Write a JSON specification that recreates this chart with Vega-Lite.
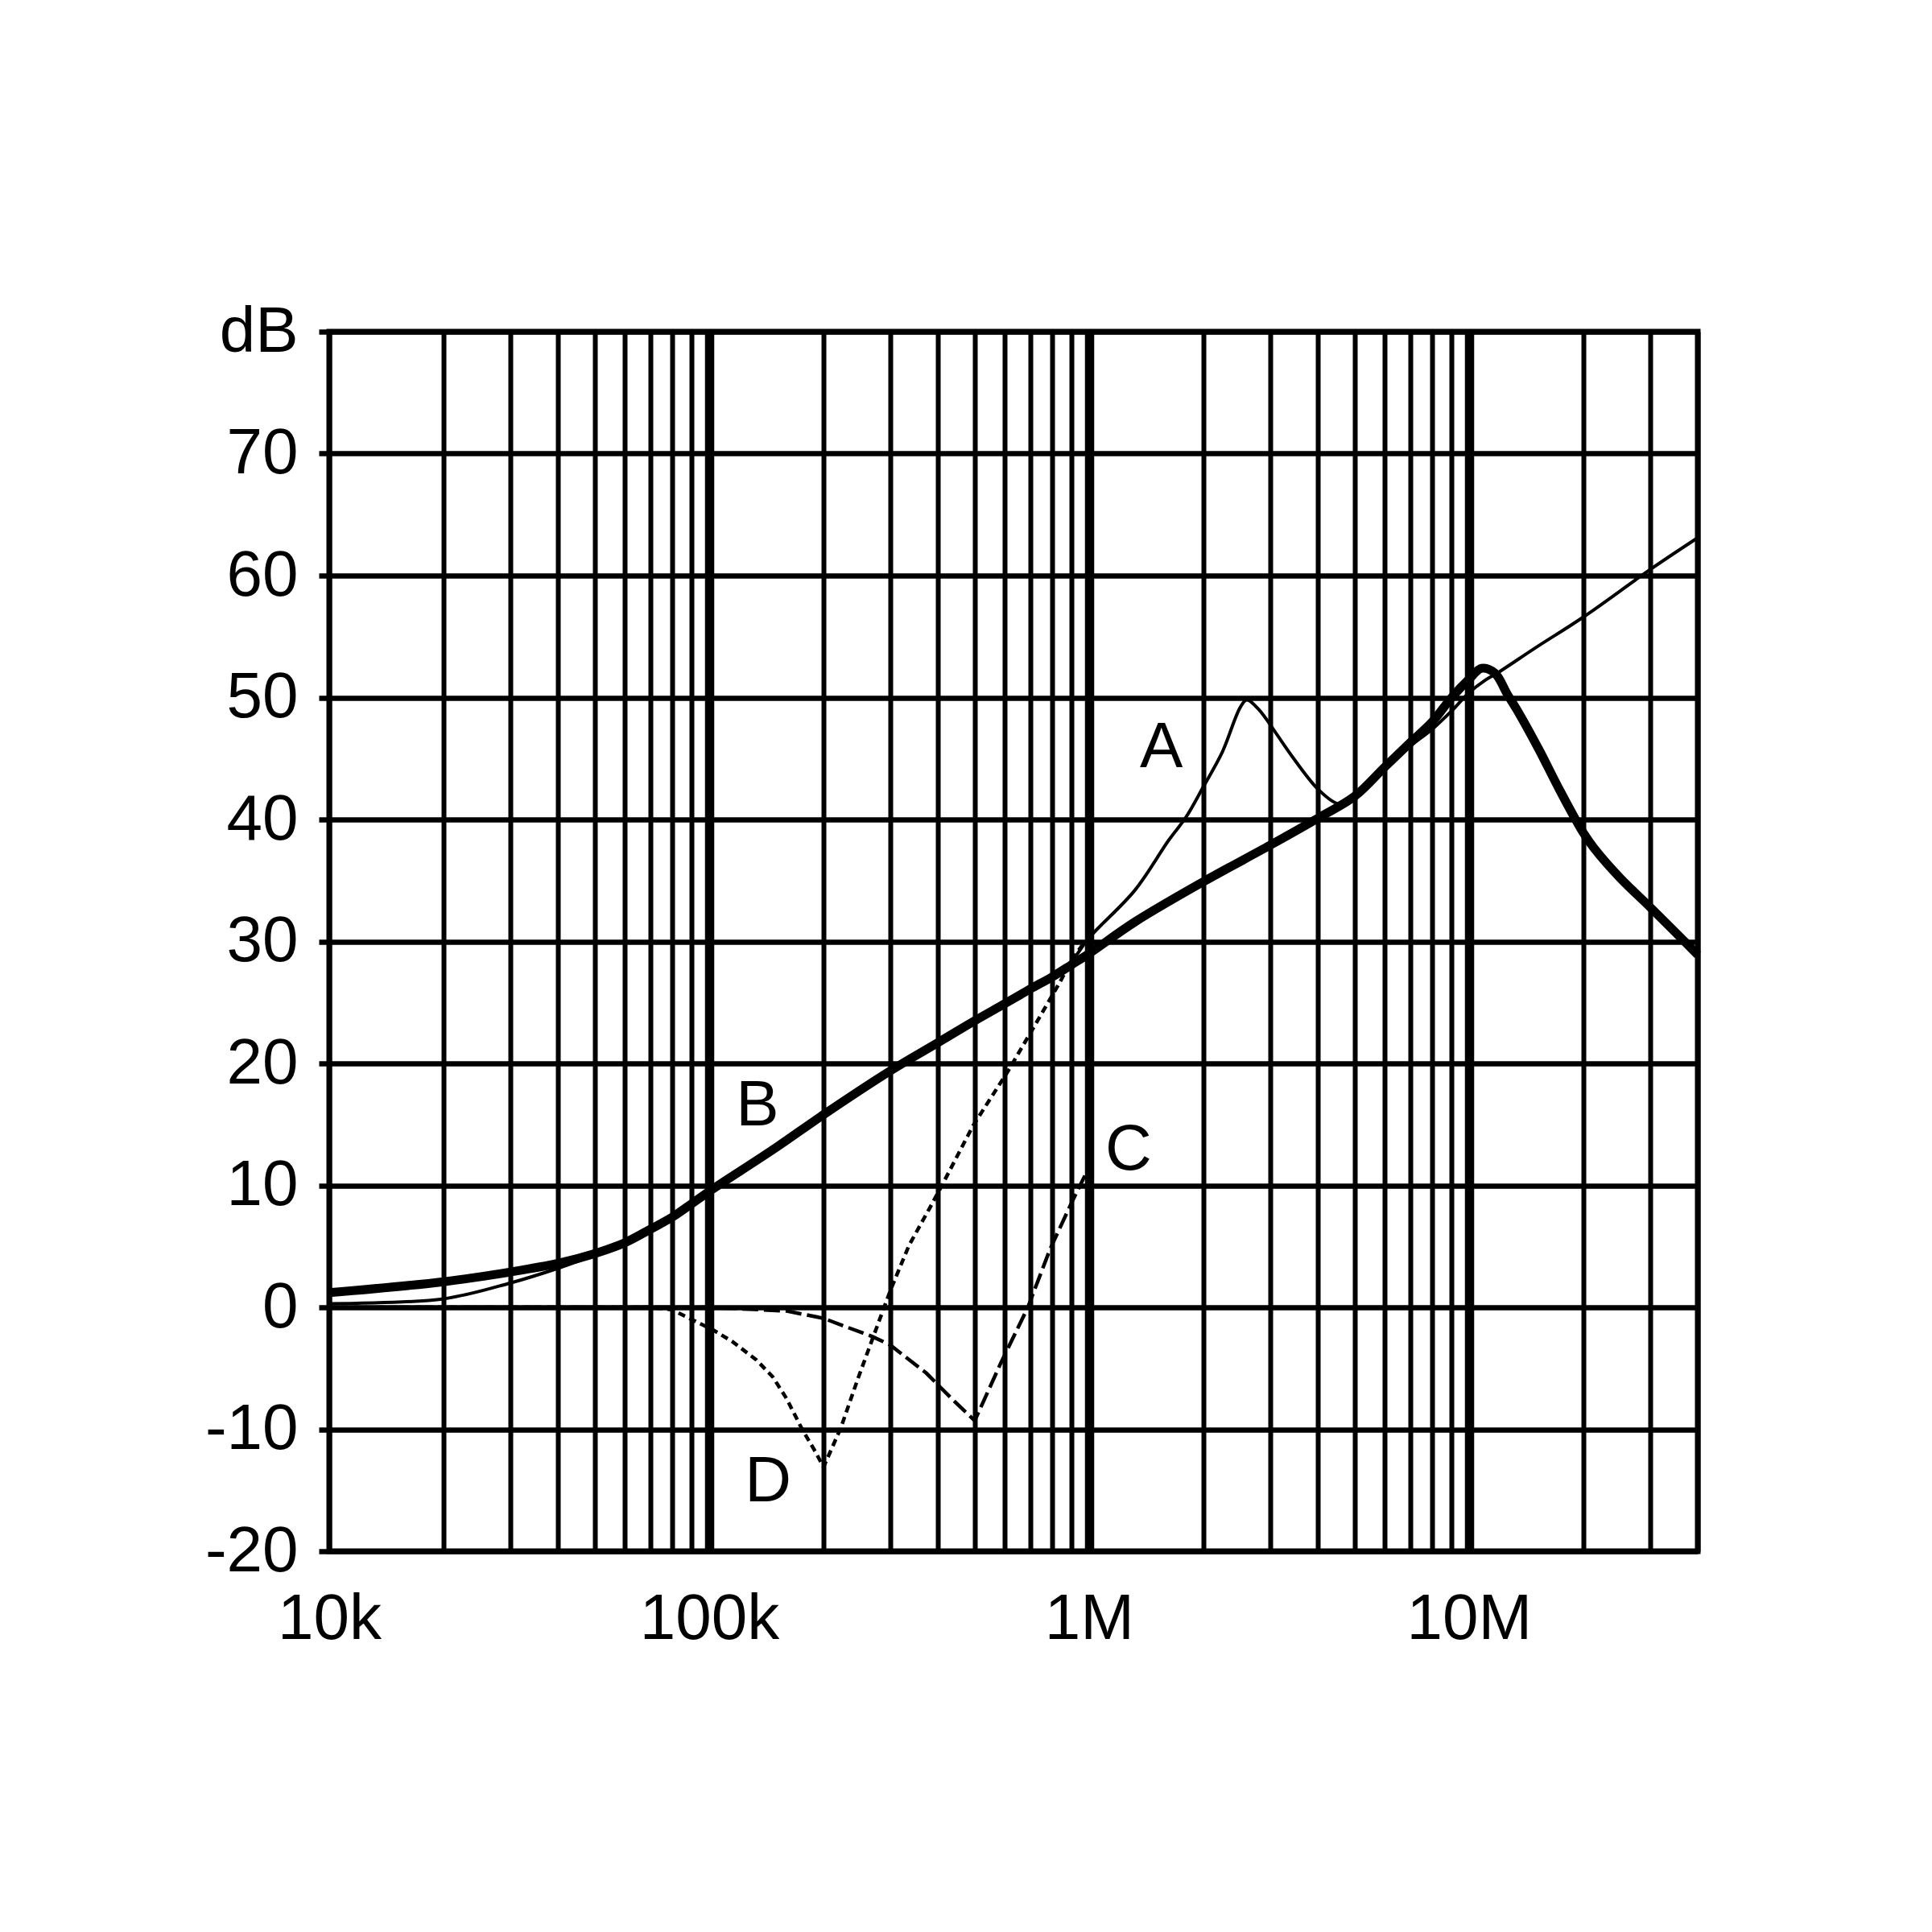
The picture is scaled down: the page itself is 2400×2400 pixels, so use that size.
{
  "$schema": "https://vega.github.io/schema/vega-lite/v6.json",
  "width": 1700,
  "height": 1515,
  "autosize": {"type": "none"},
  "padding": {"left": 409, "top": 412, "right": 291, "bottom": 473},
  "background": "white",
  "config": {"view": {"stroke": "black", "strokeWidth": 7}, "font": "Liberation Sans"},
  "datasets": {
    "curves": [
      {"s": "B", "f": 10000, "db": 1.2}, {"s": "B", "f": 20000, "db": 2.1}, {"s": "B", "f": 30000, "db": 2.9}, {"s": "B", "f": 40000, "db": 3.6}, {"s": "B", "f": 50000, "db": 4.4}, {"s": "B", "f": 60000, "db": 5.3}, {"s": "B", "f": 70000, "db": 6.4}, {"s": "B", "f": 80000, "db": 7.4}, {"s": "B", "f": 90000, "db": 8.5}, {"s": "B", "f": 100000, "db": 9.5}, {"s": "B", "f": 150000, "db": 13.1}, {"s": "B", "f": 200000, "db": 15.8}, {"s": "B", "f": 300000, "db": 19.4}, {"s": "B", "f": 400000, "db": 21.7}, {"s": "B", "f": 500000, "db": 23.5}, {"s": "B", "f": 600000, "db": 24.9}, {"s": "B", "f": 700000, "db": 26.1}, {"s": "B", "f": 800000, "db": 27.1}, {"s": "B", "f": 900000, "db": 28.1}, {"s": "B", "f": 1000000, "db": 29.0}, {"s": "B", "f": 1320000, "db": 31.6}, {"s": "B", "f": 2000000, "db": 34.9}, {"s": "B", "f": 3000000, "db": 37.9}, {"s": "B", "f": 4000000, "db": 40.1}, {"s": "B", "f": 5000000, "db": 41.9}, {"s": "B", "f": 6000000, "db": 44.3}, {"s": "B", "f": 7000000, "db": 46.3}, {"s": "B", "f": 8000000, "db": 48.0}, {"s": "B", "f": 9000000, "db": 50.0}, {"s": "B", "f": 10000000, "db": 51.5}, {"s": "B", "f": 10800000, "db": 52.4}, {"s": "B", "f": 11700000, "db": 52.0}, {"s": "B", "f": 12600000, "db": 50.3}, {"s": "B", "f": 13600000, "db": 48.6}, {"s": "B", "f": 15300000, "db": 45.7}, {"s": "B", "f": 17400000, "db": 42.3}, {"s": "B", "f": 20000000, "db": 38.9}, {"s": "B", "f": 21400000, "db": 37.6}, {"s": "B", "f": 25000000, "db": 35.2}, {"s": "B", "f": 30000000, "db": 32.8}, {"s": "B", "f": 34800000, "db": 30.8}, {"s": "B", "f": 40000000, "db": 28.9},
      {"s": "A", "f": 10000, "db": 0.3}, {"s": "A", "f": 20000, "db": 0.7}, {"s": "A", "f": 30000, "db": 2.0}, {"s": "A", "f": 40000, "db": 3.2}, {"s": "A", "f": 50000, "db": 4.3}, {"s": "A", "f": 60000, "db": 5.3}, {"s": "A", "f": 70000, "db": 6.4}, {"s": "A", "f": 80000, "db": 7.4}, {"s": "A", "f": 90000, "db": 8.5}, {"s": "A", "f": 100000, "db": 9.5}, {"s": "A", "f": 200000, "db": 15.8}, {"s": "A", "f": 300000, "db": 19.4}, {"s": "A", "f": 400000, "db": 21.7}, {"s": "A", "f": 500000, "db": 23.5}, {"s": "A", "f": 600000, "db": 24.9}, {"s": "A", "f": 700000, "db": 26.1}, {"s": "A", "f": 800000, "db": 27.1}, {"s": "A", "f": 900000, "db": 28.4}, {"s": "A", "f": 1000000, "db": 30.3}, {"s": "A", "f": 1320000, "db": 34.2}, {"s": "A", "f": 1620000, "db": 38.3}, {"s": "A", "f": 1800000, "db": 40.2}, {"s": "A", "f": 2000000, "db": 42.7}, {"s": "A", "f": 2240000, "db": 45.5}, {"s": "A", "f": 2500000, "db": 49.2}, {"s": "A", "f": 2600000, "db": 49.8}, {"s": "A", "f": 2800000, "db": 49.0}, {"s": "A", "f": 3100000, "db": 47.1}, {"s": "A", "f": 3400000, "db": 45.3}, {"s": "A", "f": 4000000, "db": 42.5}, {"s": "A", "f": 4500000, "db": 41.3}, {"s": "A", "f": 4800000, "db": 41.3}, {"s": "A", "f": 5000000, "db": 41.8}, {"s": "A", "f": 6000000, "db": 44.1}, {"s": "A", "f": 7000000, "db": 46.0}, {"s": "A", "f": 8000000, "db": 47.4}, {"s": "A", "f": 9000000, "db": 48.9}, {"s": "A", "f": 10000000, "db": 50.4}, {"s": "A", "f": 11000000, "db": 51.4}, {"s": "A", "f": 12000000, "db": 52.1}, {"s": "A", "f": 15000000, "db": 54.1}, {"s": "A", "f": 20000000, "db": 56.6}, {"s": "A", "f": 30000000, "db": 60.5}, {"s": "A", "f": 40000000, "db": 63.1},
      {"s": "C", "f": 10000, "db": 0}, {"s": "C", "f": 100000, "db": 0}, {"s": "C", "f": 160000, "db": -0.3}, {"s": "C", "f": 200000, "db": -0.9}, {"s": "C", "f": 234000, "db": -1.7}, {"s": "C", "f": 269000, "db": -2.4}, {"s": "C", "f": 300000, "db": -3.1}, {"s": "C", "f": 373000, "db": -5.4}, {"s": "C", "f": 432000, "db": -7.4}, {"s": "C", "f": 500000, "db": -9.3}, {"s": "C", "f": 585000, "db": -4.6}, {"s": "C", "f": 690000, "db": 0}, {"s": "C", "f": 790000, "db": 4.8}, {"s": "C", "f": 900000, "db": 8.6}, {"s": "C", "f": 975000, "db": 10.8},
      {"s": "D", "f": 10000, "db": 0}, {"s": "D", "f": 70000, "db": 0}, {"s": "D", "f": 80000, "db": -0.2}, {"s": "D", "f": 90000, "db": -1.0}, {"s": "D", "f": 103000, "db": -1.9}, {"s": "D", "f": 115000, "db": -2.8}, {"s": "D", "f": 133000, "db": -4.3}, {"s": "D", "f": 147000, "db": -5.7}, {"s": "D", "f": 160000, "db": -7.5}, {"s": "D", "f": 175000, "db": -9.9}, {"s": "D", "f": 190000, "db": -11.8}, {"s": "D", "f": 200000, "db": -13.1}, {"s": "D", "f": 222000, "db": -9.9}, {"s": "D", "f": 246000, "db": -5.9}, {"s": "D", "f": 269000, "db": -2.6}, {"s": "D", "f": 300000, "db": 1.4}, {"s": "D", "f": 336000, "db": 5.1}, {"s": "D", "f": 380000, "db": 8.1}, {"s": "D", "f": 410000, "db": 10.0}, {"s": "D", "f": 495000, "db": 14.9}, {"s": "D", "f": 610000, "db": 19.3}, {"s": "D", "f": 716000, "db": 23.0}, {"s": "D", "f": 836000, "db": 26.6}, {"s": "D", "f": 900000, "db": 28.5}, {"s": "D", "f": 960000, "db": 29.7}
    ],
    "labels": [
      {"label": "A", "f": 1550000, "db": 45.9},
      {"label": "B", "f": 134000, "db": 16.5},
      {"label": "C", "f": 1270000, "db": 12.9},
      {"label": "D", "f": 143000, "db": -14.3}
    ]
  },
  "data": {"name": "curves"},
  "encoding": {
    "x": {
      "field": "f", "type": "quantitative",
      "scale": {"type": "log", "domain": [10000, 40000000], "nice": false},
      "axis": {
        "title": null,
        "values": [10000, 20000, 30000, 40000, 50000, 60000, 70000, 80000, 90000, 100000, 200000, 300000, 400000, 500000, 600000, 700000, 800000, 900000, 1000000, 2000000, 3000000, 4000000, 5000000, 6000000, 7000000, 8000000, 9000000, 10000000, 20000000, 30000000, 40000000],
        "labelExpr": "datum.value == 10000 ? '10k' : datum.value == 100000 ? '100k' : datum.value == 1000000 ? '1M' : datum.value == 10000000 ? '10M' : ''",
        "grid": true, "gridColor": "black", "gridOpacity": 1,
        "gridWidth": {"condition": {"test": "datum.value == 100000 || datum.value == 1000000 || datum.value == 10000000", "value": 11.5}, "value": 6},
        "ticks": false, "domain": false,
        "labelFont": "Liberation Sans", "labelFontSize": 80, "labelColor": "black",
        "labelPadding": 45, "labelOverlap": false, "labelFlush": false
      }
    },
    "y": {
      "field": "db", "type": "quantitative",
      "scale": {"domain": [-20, 80], "nice": false, "zero": false},
      "axis": {
        "title": null,
        "values": [-20, -10, 0, 10, 20, 30, 40, 50, 60, 70, 80],
        "labelExpr": "datum.value == 80 ? 'dB' : '' + datum.value",
        "grid": true, "gridColor": "black", "gridOpacity": 1, "gridWidth": 6.5,
        "ticks": true, "tickSize": 13, "tickWidth": 6.5, "tickColor": "black",
        "domain": false,
        "labelFont": "Liberation Sans", "labelFontSize": 80, "labelColor": "black",
        "labelPadding": 26, "labelOverlap": false, "labelFlush": false
      }
    }
  },
  "layer": [
    {"transform": [{"filter": "datum.s == 'B'"}], "mark": {"type": "line", "color": "black", "strokeWidth": 11, "interpolate": "catmull-rom", "strokeJoin": "round"}},
    {"transform": [{"filter": "datum.s == 'A'"}], "mark": {"type": "line", "color": "black", "strokeWidth": 4, "interpolate": "catmull-rom"}},
    {"transform": [{"filter": "datum.s == 'C'"}], "mark": {"type": "line", "color": "black", "strokeWidth": 4.5, "strokeDash": [20, 7]}},
    {"transform": [{"filter": "datum.s == 'D'"}], "mark": {"type": "line", "color": "black", "strokeWidth": 4.5, "strokeDash": [9, 6]}},
    {"data": {"name": "labels"}, "mark": {"type": "text", "font": "Liberation Sans", "fontSize": 80, "color": "black", "align": "center", "baseline": "middle"}, "encoding": {"text": {"field": "label", "type": "nominal"}}}
  ]
}
